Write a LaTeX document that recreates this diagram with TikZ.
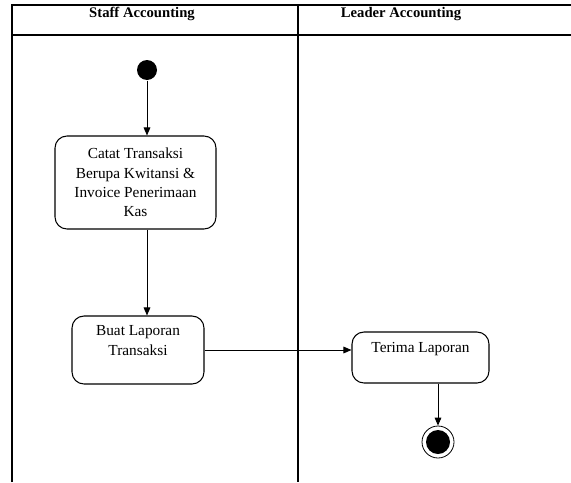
\documentclass[tikz,border=0pt]{standalone}
\usepackage{fontspec}
\setmainfont{Liberation Serif}
\usetikzlibrary{arrows.meta}

\begin{document}
\begin{tikzpicture}[x=0.75pt, y=-0.75pt, line width=0.8pt,
    lane/.style={font=\fontsize{11}{13}\selectfont\bfseries},
    activity/.style={draw, rounded corners=9pt, align=center, font=\fontsize{11.5}{14.6}\selectfont},
    flow/.style={-{Triangle[length=6pt,width=5pt]}, line width=0.7pt}]
  \useasboundingbox (0,0) rectangle (571,482);
  % swimlanes
  \draw (12,482) -- (12,5) -- (571,5);
  \draw (12,35) -- (571,35);
  \draw (298,5) -- (298,482);
  \node[lane] (staff) at (142,14) {Staff Accounting};
  \node[lane] (leader) at (401,14) {Leader Accounting};
  % states
  \node[circle, fill=black, minimum size=15pt, inner sep=0pt] (start) at (147,70) {};
  \node[activity, minimum width=120.75pt, minimum height=69.75pt] (catat) at (135.5,182.5) {Catat Transaksi\\Berupa Kwitansi \&\\Invoice Penerimaan\\Kas};
  \node[activity, minimum width=99pt, minimum height=51pt] (buat) at (138,350) {Buat Laporan\\Transaksi\\~};
  \node[activity, minimum width=102.75pt, minimum height=38.25pt] (terima) at (420.5,357.5) {Terima Laporan\\~};
  \node[circle, draw, line width=0.6pt, minimum size=24pt, inner sep=0pt,
        path picture={\fill (path picture bounding box.center) circle (9pt);}] (end) at (438,442) {};
  % transitions
  \draw[flow] (start) -- (start |- catat.north);
  \draw[flow] (catat.south -| start) -- (buat.north -| start);
  \draw[flow] (buat.east) -- (buat.east -| terima.west);
  \draw[flow] (end |- terima.south) -- (end);
  %\draw[flow] (terima) -- (end);
\end{tikzpicture}
\end{document}
